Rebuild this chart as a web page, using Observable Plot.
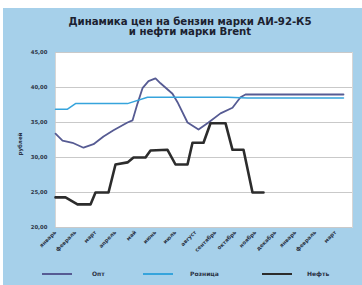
<!DOCTYPE html>
<html><head><meta charset="utf-8">
<script src="https://cdn.jsdelivr.net/npm/d3@7"></script>
<script src="https://cdn.jsdelivr.net/npm/@observablehq/plot@0.6"></script>
<style>
html,body{margin:0;padding:0;background:#fff;width:362px;height:285px;overflow:hidden;font-family:"DejaVu Sans",sans-serif;}
#panel{position:absolute;left:3px;top:8px;width:359px;height:277px;background:#a6d0ea;}
#title{position:absolute;left:0;top:9px;width:374px;text-align:center;font-weight:bold;font-size:10.2px;line-height:9.5px;color:#1c2230;letter-spacing:-0.05px;}
#chart{position:absolute;left:0;top:30px;}
#ylab{position:absolute;left:17px;top:133px;transform:rotate(-90deg);transform-origin:center;font-size:5.5px;font-weight:bold;color:#2b3345;white-space:nowrap;width:30px;text-align:center;margin-left:-15px;}
.leg{position:absolute;top:262px;height:8px;}
.leg span{position:absolute;font-size:6px;font-weight:bold;color:#2b3345;top:0;white-space:nowrap;}
.leg i{position:absolute;top:3px;height:2px;width:30px;}
</style></head>
<body><div id="panel">
<div id="title">Динамика цен на бензин марки АИ-92-К5<br>и нефти марки Brent</div>
<div id="chart"></div>
<div id="ylab">рублей</div>
<div class="leg" id="legend"></div>
</div>
<script>
const months = ["январь","февраль","март","апрель","май","июнь","июль","август","сентябрь","октябрь","ноябрь","декабрь","январь","февраль","март"];
const yTicks = [20, 25, 30, 35, 40, 45];
// x = position in months (0 = first label), y = price
const optX = [0,0.35,0.85,1.4,1.9,2.4,2.9,3.6,3.85,4.1,4.35,4.65,5.0,5.25,5.85,6.1,6.6,7.15,7.65,8.25,8.85,9.25,9.5,14.4];
const optY = [33.4,32.4,32.1,31.4,31.9,33.0,33.9,35.0,35.3,37.7,39.9,40.9,41.3,40.6,39.1,37.9,35.0,34.0,35.0,36.3,37.1,38.6,39.0,39.0];
const retailX = [0,0.6,1.0,3.6,4.6,8.6,9.6,14.4];
const retailY = [36.9,36.9,37.7,37.7,38.6,38.6,38.5,38.5];
const oilX = [0,0.5,1.1,1.75,2.0,2.65,3.0,3.6,3.9,4.5,4.75,5.6,6.0,6.6,6.85,7.4,7.75,8.5,8.85,9.4,9.85,10.4];
const oilY = [24.3,24.3,23.3,23.3,25.0,25.0,29.0,29.3,30.0,30.0,31.0,31.1,29.0,29.0,32.1,32.1,34.9,34.9,31.1,31.1,25.0,25.0];
const seriesNames = ["Опт","Розница","Нефть"];
const seriesColors = ["#565b93","#36a4dc","#2c2c2c"];
const seriesWidths = [1.8,1.5,2.6];

const mk = (xs, ys, name) => xs.map((x,i)=>({x, y: ys[i], s: name}));
const data = [mk(optX,optY,seriesNames[0]), mk(retailX,retailY,seriesNames[1]), mk(oilX,oilY,seriesNames[2])];

const fmt = d => d.toFixed(2).replace(".", ",");
const chart = Plot.plot({
  width: 359, height: 224,
  marginLeft: 52, marginRight: 10, marginTop: 14, marginBottom: 35,
  style: {background: "transparent", fontFamily: "DejaVu Sans, sans-serif", fontSize: "5.3px", color: "#2b3345", fontWeight: "bold"},
  x: {domain: [0, 14.85], ticks: d3.range(months.length), tickFormat: i => months[i], tickRotate: -45, tickSize: 0, tickPadding: 4, label: null},
  y: {domain: [20, 45], ticks: yTicks, tickFormat: fmt, tickSize: 0, tickPadding: 8, label: null},
  marks: [
    Plot.frame({fill: "white", stroke: "#d6d6d6"}),
    Plot.gridY(yTicks, {stroke: "#c9c9c9", strokeOpacity: 1, strokeWidth: 1.2}),
    ...data.map((d, k) => Plot.line(d, {x: "x", y: "y", stroke: seriesColors[k], strokeWidth: seriesWidths[k], strokeLinejoin: "round"})),
  ]
});
document.getElementById("chart").appendChild(chart);

const legendPos = [[39, 89], [140, 187], [259, 304]];
const leg = document.getElementById("legend");
seriesNames.forEach((n, k) => {
  const i = document.createElement("i");
  i.style.left = legendPos[k][0] + "px"; i.style.background = seriesColors[k];
  const s = document.createElement("span");
  s.style.left = legendPos[k][1] + "px"; s.textContent = n;
  leg.appendChild(i); leg.appendChild(s);
});
</script>
</body></html>
